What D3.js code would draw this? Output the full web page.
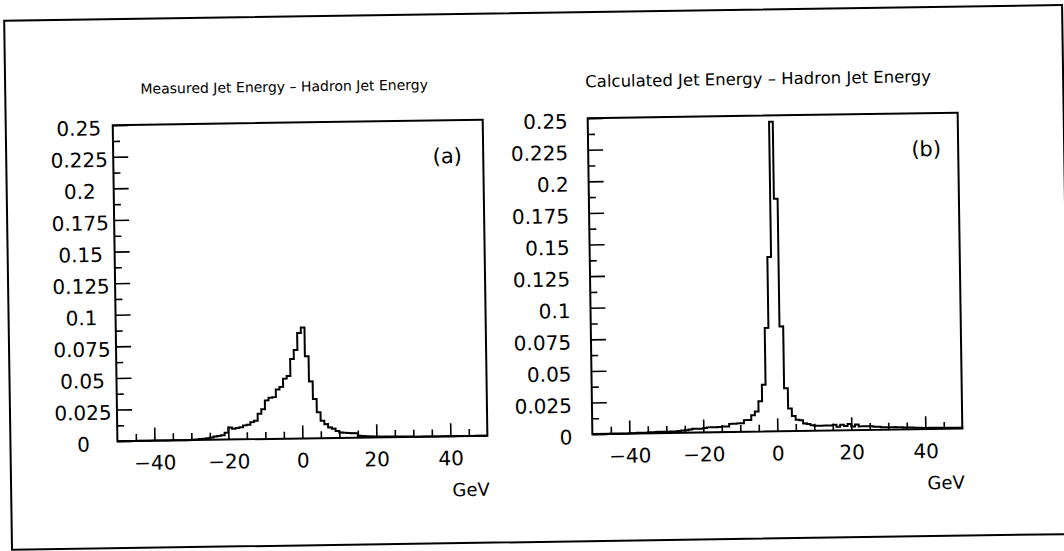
<!DOCTYPE html>
<html>
<head>
<meta charset="utf-8">
<script src="https://cdn.jsdelivr.net/npm/d3@7"></script>
<style>
  html, body { margin: 0; padding: 0; background: #fff; }
  svg { display: block; }
  text { font-family: "DejaVu Sans", sans-serif; fill: #000; }
</style>
</head>
<body>
<svg id="chart" width="1064" height="551"></svg>
<script>
// ---------------- data ----------------
const binStart = -50;   // lower edge of first bin (GeV)
const binWidth = 1;     // GeV

const titles = ["Measured Jet Energy \u2013 Hadron Jet Energy",
                "Calculated Jet Energy \u2013 Hadron Jet Energy"];
const panelTags = ["(a)", "(b)"];
const xUnit = "GeV";

// (a) measured - hadron, bins -50..49
const measured = [
  0,0,0,0,0,0,0,0,0,0,
  0,0,0,0,0,0,0,0,0,0,
  0.0003,0.0005,0.0008,0.001,0.0013,0.0018,0.0025,0.003,0.0035,0.0055,
  0.0095,0.0085,0.009,0.0095,0.011,0.0115,0.0135,0.0145,0.02,0.0235,
  0.0305,0.0325,0.033,0.039,0.041,0.0475,0.0495,0.063,0.070,0.0835,
  0.0878,0.065,0.045,0.031,0.0205,0.0138,0.011,0.0084,0.0074,0.0055,
  0.0042,0.004,0.0038,0.0036,0.0035,0.0015,0.0012,0.001,0.0008,0.0007,
  0.0006,0.0005,0.0005,0.0005,0.0004,0.0004,0.0003,0.0003,0.0002,0.0002,
  0,0,0,0,0,0,0,0,0,0,
  0,0,0,0,0,0,0,0,0,0
];

// (b) calculated - hadron, bins -50..49
const calculated = [
  0,0,0,0,0,0,0,0,0,0,
  0.0003,0.0003,0.0005,0.0005,0.0005,0.0008,0.0008,0.001,0.001,0.001,
  0.001,0.0012,0.0012,0.0015,0.0018,0.002,0.0025,0.003,0.003,0.003,
  0.0035,0.004,0.004,0.004,0.0042,0.0045,0.0045,0.0065,0.0065,0.0068,
  0.0068,0.0093,0.0093,0.013,0.016,0.024,0.037,0.082,0.138,0.245,
  0.184,0.083,0.034,0.018,0.012,0.009,0.0085,0.006,0.0055,0.0045,
  0.004,0.004,0.004,0.004,0.004,0.0045,0.003,0.0045,0.0035,0.005,
  0.003,0.0045,0.003,0.003,0.003,0.003,0.0025,0.0025,0.002,0.002,
  0.002,0.002,0.0018,0.0018,0.0015,0.0015,0.0015,0.0012,0.0012,0.001,
  0.001,0.001,0.001,0.001,0.001,0.0008,0.0008,0.0008,0.0008,0.0008
];

const xDomain = [-50, 50];
const yDomain = [0, 0.25];
const xMajorTicks = [-40, -20, 0, 20, 40];
const xMinorTicks = [-45, -35, -30, -25, -15, -10, -5, 5, 10, 15, 25, 30, 35, 45];
const yMajorTicks = [0, 0.025, 0.05, 0.075, 0.1, 0.125, 0.15, 0.175, 0.2, 0.225, 0.25];
const yMinorTicks = [0.0125, 0.0375, 0.0625, 0.0875, 0.1125, 0.1375, 0.1625, 0.1875, 0.2125, 0.2375];
const yTickLabels = ["0", "0.025", "0.05", "0.075", "0.1", "0.125", "0.15", "0.175", "0.2", "0.225", "0.25"];

// ---------------- drawing ----------------
const svg = d3.select("#chart");
const root = svg.append("g").attr("transform", "rotate(-0.85, 532, 275)");

// outer page frame
root.append("rect")
  .attr("x", 8).attr("y", 13).attr("width", 1058).attr("height", 529)
  .attr("fill", "none").attr("stroke", "#000").attr("stroke-width", 2);

const panels = [
  { left: 115, right: 485, values: measured, title: titles[0], titleSize: 14, titleX: 287,
    tag: panelTags[0], tagOffset: 36, labelMode: "middle" },
  { left: 590, right: 960, values: calculated, title: titles[1], titleSize: 16.5, titleX: 761,
    tag: panelTags[1], tagOffset: 32, labelMode: "end" }
];
const plotTop = 119, plotBottom = 435;

panels.forEach(p => {
  const g = root.append("g");
  const x = d3.scaleLinear().domain(xDomain).range([p.left, p.right]);
  const y = d3.scaleLinear().domain(yDomain).range([plotBottom, plotTop]);

  // histogram outline
  const pts = [[x(binStart), y(0)]];
  p.values.forEach((v, i) => {
    const x0 = binStart + i * binWidth;
    pts.push([x(x0), y(v)]);
    pts.push([x(x0 + binWidth), y(v)]);
  });
  pts.push([x(binStart + p.values.length * binWidth), y(0)]);
  g.append("path")
    .attr("d", d3.line()(pts))
    .attr("fill", "none").attr("stroke", "#000").attr("stroke-width", 2)
    .attr("stroke-linejoin", "miter");

  // x ticks (inside, pointing up)
  g.append("g").attr("transform", `translate(0,${plotBottom})`)
    .call(d3.axisBottom(x).tickValues(xMajorTicks).tickSize(-13).tickFormat(d => d < 0 ? "\u2212" + Math.abs(d) : String(d)).tickPadding(0))
    .call(a => a.select(".domain").remove())
    .call(a => a.selectAll("line").attr("stroke-width", 1.6))
    .call(a => a.selectAll("text")
      .attr("y", 0).attr("dy", 0)
      .attr("transform", "translate(0,29)")
      .attr("fill", "#000")
      .style("font-size", "20px").style("font-family", "'DejaVu Sans', sans-serif"));
  g.append("g").attr("transform", `translate(0,${plotBottom})`)
    .call(d3.axisBottom(x).tickValues(xMinorTicks).tickSize(-7).tickFormat(""))
    .call(a => a.select(".domain").remove())
    .call(a => a.selectAll("line").attr("stroke-width", 1.6));

  // y ticks (inside, pointing right)
  g.append("g").attr("transform", `translate(${p.left},0)`)
    .call(d3.axisRight(y).tickValues(yMajorTicks).tickSize(15).tickFormat(""))
    .call(a => a.select(".domain").remove())
    .call(a => a.selectAll("line").attr("stroke-width", 1.6));
  g.append("g").attr("transform", `translate(${p.left},0)`)
    .call(d3.axisRight(y).tickValues(yMinorTicks).tickSize(7).tickFormat(""))
    .call(a => a.select(".domain").remove())
    .call(a => a.selectAll("line").attr("stroke-width", 1.6));

  // y tick labels
  const lx = p.labelMode === "middle" ? p.left - 34 : p.left - 20;
  g.selectAll("text.ylab").data(yMajorTicks).enter().append("text")
    .attr("class", "ylab")
    .attr("x", lx)
    .attr("y", d => y(d) + 3)
    .attr("dy", "0.35em")
    .attr("text-anchor", p.labelMode)
    .style("font-size", "20px")
    .text((d, i) => yTickLabels[i]);

  // frame
  g.append("rect")
    .attr("x", p.left).attr("y", plotTop)
    .attr("width", p.right - p.left).attr("height", plotBottom - plotTop)
    .attr("fill", "none").attr("stroke", "#000").attr("stroke-width", 2);

  // title
  g.append("text")
    .attr("x", p.titleX).attr("y", 88)
    .attr("text-anchor", "middle")
    .style("font-size", p.titleSize + "px")
    .text(p.title);

  // panel tag
  g.append("text")
    .attr("x", p.right - p.tagOffset).attr("y", 162)
    .attr("text-anchor", "middle")
    .style("font-size", "21px")
    .text(p.tag);

  // unit label
  g.append("text")
    .attr("x", p.right - 17).attr("y", 495)
    .attr("text-anchor", "middle")
    .style("font-size", "18px")
    .text(xUnit);
});
</script>
</body>
</html>
